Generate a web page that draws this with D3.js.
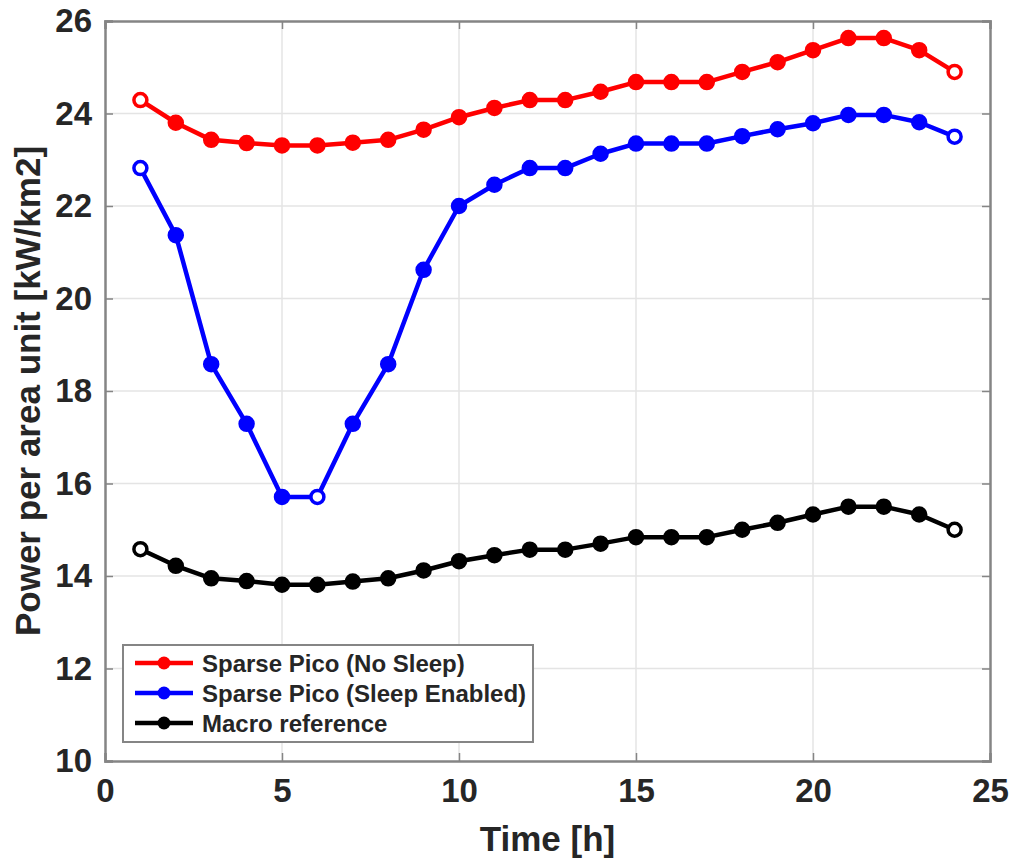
<!DOCTYPE html>
<html>
<head>
<meta charset="utf-8">
<script src="https://cdn.jsdelivr.net/npm/d3@7"></script>
<style>
    body { margin: 0; background: #fff; }
    text { font-family: "Liberation Sans", Arial, sans-serif; font-weight: bold; fill: #262626; }
</style>
</head>
<body>
<div id="chart"></div>
<script>

// Hours of the day
var hours = [1, 2, 3, 4, 5, 6, 7, 8, 9, 10, 11, 12, 13, 14, 15, 16, 17, 18, 19, 20, 21, 22, 23, 24];

// Power per area unit [kW/km2]
var picoNoSleep = [24.29, 23.80, 23.43, 23.36, 23.31, 23.31, 23.37, 23.43, 23.65, 23.92, 24.12, 24.29,
    24.29, 24.47, 24.68, 24.68, 24.68, 24.90, 25.11, 25.37, 25.63, 25.63, 25.37, 24.90];
var picoSleep = [22.82, 21.37, 18.58, 17.29, 15.71, 15.71, 17.29, 18.58, 20.62, 22.00, 22.46, 22.82,
    22.82, 23.13, 23.35, 23.35, 23.35, 23.51, 23.66, 23.79, 23.97, 23.97, 23.81, 23.50];
var macroRef = [14.58, 14.22, 13.95, 13.89, 13.81, 13.81, 13.88, 13.95, 14.12, 14.32, 14.45, 14.57,
    14.57, 14.70, 14.84, 14.84, 14.84, 15.00, 15.15, 15.33, 15.50, 15.50, 15.33, 15.00];

var seriesNames = ["Sparse Pico (No Sleep)", "Sparse Pico (Sleep Enabled)", "Macro reference"];

var xTicks = [0, 5, 10, 15, 20, 25];
var yTicks = [10, 12, 14, 16, 18, 20, 22, 24, 26];

var seriesColors = ["#ff0000", "#0000ff", "#000000"];
// hours drawn with a hollow marker
var hollowHours = [[1, 24], [1, 6, 24], [1, 24]];

var allSeries = [picoNoSleep, picoSleep, macroRef];

var margin = { top: 21, right: 27, bottom: 102, left: 105 };
var width = 1017 - margin.left - margin.right;
var height = 863 - margin.top - margin.bottom;

var svg = d3.select("#chart").append("svg")
    .attr("width", 1017)
    .attr("height", 863)
    .append("g")
    .attr("transform", "translate(" + margin.left + "," + margin.top + ")");

// Scales
var x = d3.scaleLinear().domain([0, 25]).range([0, width]);
var y = d3.scaleLinear().domain([10, 26]).range([height, 0]);

// Grid
svg.append("g").attr("class", "grid")
    .selectAll("line.gx")
    .data(xTicks.slice(1, -1))
    .enter().append("line")
    .attr("x1", function(d) { return x(d); })
    .attr("x2", function(d) { return x(d); })
    .attr("y1", 0).attr("y2", height)
    .attr("stroke", "#e4e4e4").attr("stroke-width", 1.5);

svg.append("g").attr("class", "grid")
    .selectAll("line.gy")
    .data(yTicks.slice(1, -1))
    .enter().append("line")
    .attr("y1", function(d) { return y(d); })
    .attr("y2", function(d) { return y(d); })
    .attr("x1", 0).attr("x2", width)
    .attr("stroke", "#e4e4e4").attr("stroke-width", 1.5);

// Axes (ticks inside, MATLAB style)
var xAxis = d3.axisBottom(x).tickValues(xTicks).tickSize(-8).tickPadding(18);
var yAxis = d3.axisLeft(y).tickValues(yTicks).tickSize(-8).tickPadding(13);
var xAxisTop = d3.axisTop(x).tickValues(xTicks).tickSize(-8).tickFormat("");
var yAxisRight = d3.axisRight(y).tickValues(yTicks).tickSize(-8).tickFormat("");

svg.append("g").attr("class", "axis x-axis")
    .attr("transform", "translate(0," + height + ")")
    .call(xAxis);
svg.append("g").attr("class", "axis y-axis")
    .call(yAxis);
svg.append("g").attr("class", "axis")
    .call(xAxisTop);
svg.append("g").attr("class", "axis")
    .attr("transform", "translate(" + width + ",0)")
    .call(yAxisRight);

svg.selectAll(".axis path").attr("stroke", "#858585").attr("stroke-width", 2.5);
svg.selectAll(".axis line").attr("stroke", "#858585").attr("stroke-width", 1.5);
svg.selectAll(".axis text")
    .style("font-size", "33px")
    .style("font-family", "'Liberation Sans', Arial, sans-serif")
    .style("font-weight", "bold")
    .attr("fill", "#262626");
svg.select(".x-axis").selectAll("text").attr("dy", "0.71em");

// Axis labels
svg.append("text")
    .attr("x", width / 2)
    .attr("y", height + 90)
    .attr("text-anchor", "middle")
    .style("font-size", "35px")
    .text("Time [h]");

svg.append("text")
    .attr("transform", "translate(" + (40 - margin.left) + "," + (height / 2) + ") rotate(-90)")
    .attr("text-anchor", "middle")
    .style("font-size", "35px")
    .text("Power per area unit [kW/km2]");

// Lines and markers
var line = d3.line()
    .x(function(d) { return x(d.h); })
    .y(function(d) { return y(d.v); });

allSeries.forEach(function(values, i) {
    var pts = hours.map(function(h, j) { return { h: h, v: values[j] }; });

    svg.append("path")
        .datum(pts)
        .attr("fill", "none")
        .attr("stroke", seriesColors[i])
        .attr("stroke-width", 4.5)
        .attr("stroke-linejoin", "round")
        .attr("d", line);

    svg.selectAll(".pt" + i)
        .data(pts)
        .enter().append("circle")
        .attr("class", "pt" + i)
        .attr("cx", function(d) { return x(d.h); })
        .attr("cy", function(d) { return y(d.v); })
        .attr("r", 6.5)
        .attr("fill", function(d) {
            return hollowHours[i].indexOf(d.h) >= 0 ? "#fff" : seriesColors[i];
        })
        .attr("stroke", seriesColors[i])
        .attr("stroke-width", 3.5);
});

// Legend
var legend = svg.append("g")
    .attr("transform", "translate(" + (123 - margin.left) + "," + (645 - margin.top) + ")");

legend.append("rect")
    .attr("width", 410)
    .attr("height", 97)
    .attr("fill", "#fff")
    .attr("stroke", "#858585")
    .attr("stroke-width", 2);

seriesNames.forEach(function(name, i) {
    var ly = 18 + i * 30;
    legend.append("line")
        .attr("x1", 12).attr("x2", 70)
        .attr("y1", ly).attr("y2", ly)
        .attr("stroke", seriesColors[i])
        .attr("stroke-width", 4.5);
    legend.append("circle")
        .attr("cx", 41).attr("cy", ly)
        .attr("r", 6.5)
        .attr("fill", seriesColors[i]);
    legend.append("text")
        .attr("x", 79)
        .attr("y", ly)
        .attr("dy", "0.36em")
        .style("font-size", "24px")
        .text(name);
});

</script>
</body>
</html>
